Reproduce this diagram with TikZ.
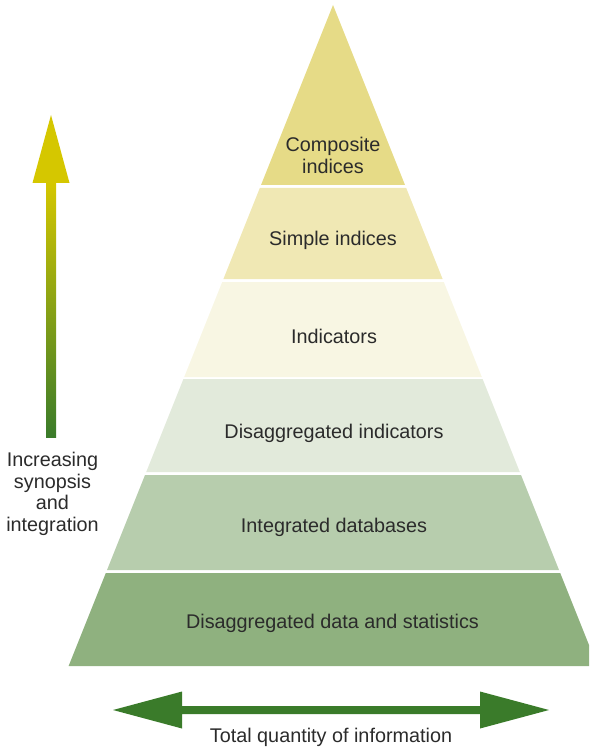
\documentclass[tikz,border=0pt]{standalone}
\usepackage{fontspec}
\setmainfont{Liberation Sans}
\definecolor{cA}{HTML}{E6DB87}
\definecolor{cB}{HTML}{F0E8B4}
\definecolor{cC}{HTML}{F8F6E3}
\definecolor{cD}{HTML}{E2EADB}
\definecolor{cE}{HTML}{B7CDAD}
\definecolor{cF}{HTML}{8FB17F}
\definecolor{txt}{HTML}{2B2B2B}
\definecolor{agreen}{HTML}{3A7B2A}
\definecolor{ayellow}{HTML}{D5C700}
\begin{document}
\begin{tikzpicture}[x=1pt,y=-1pt,
  lbl/.style={font=\fontsize{19.8}{22}\selectfont, text=txt, inner sep=0pt, anchor=base, align=center}]
\useasboundingbox (0,0) rectangle (589,751);
\clip (0,0) rectangle (589,751);
% pyramid bands
\fill[cA] (333,5) -- (405,185) -- (261,185) -- cycle;
\fill[cB] (259.8,188) -- (406.2,188) -- (442.6,279) -- (223.4,279) -- cycle;
\fill[cC] (222.2,282) -- (443.8,282) -- (481.8,377) -- (184.2,377) -- cycle;
\fill[cD] (183.4,379) -- (482.6,379) -- (519.8,472) -- (146.2,472) -- cycle;
\fill[cE] (145,475) -- (521,475) -- (559,570) -- (107,570) -- cycle;
\fill[cF] (105.8,573) -- (560.2,573) -- (597.4,666) -- (68.6,666) -- cycle;
% labels
\node[lbl] (composite) at (333,174) {Composite\\indices};
\node[lbl] (simple) at (333,245) {Simple indices};
\node[lbl] (indicators) at (334,343) {Indicators};
\node[lbl] (disind) at (334,438) {Disaggregated indicators};
\node[lbl] (integrated) at (334,532) {Integrated databases};
\node[lbl] (disdata) at (332.5,628) {Disaggregated data and statistics};
% vertical arrow
\shade[top color=ayellow, bottom color=agreen] (46,182) rectangle (56,437);
\fill[ayellow] (51,115) -- (69.5,183) -- (32.5,183) -- cycle;
\node[lbl, font=\fontsize{19.8}{21.5}\selectfont] (synopsis) at (52.5,531) {Increasing\\synopsis\\and\\integration};
% horizontal double arrow
\coordinate (lt) at (113,710);
\coordinate (rt) at (549,710);
\fill[agreen] (lt) -- (182,691.5) -- (182,706) -- (480,706) -- (480,691.5) -- (rt)
  -- (480,728.5) -- (480,714) -- (182,714) -- (182,728.5) -- cycle;
\node[lbl] (total) at (331,742) {Total quantity of information};
\end{tikzpicture}
\end{document}
